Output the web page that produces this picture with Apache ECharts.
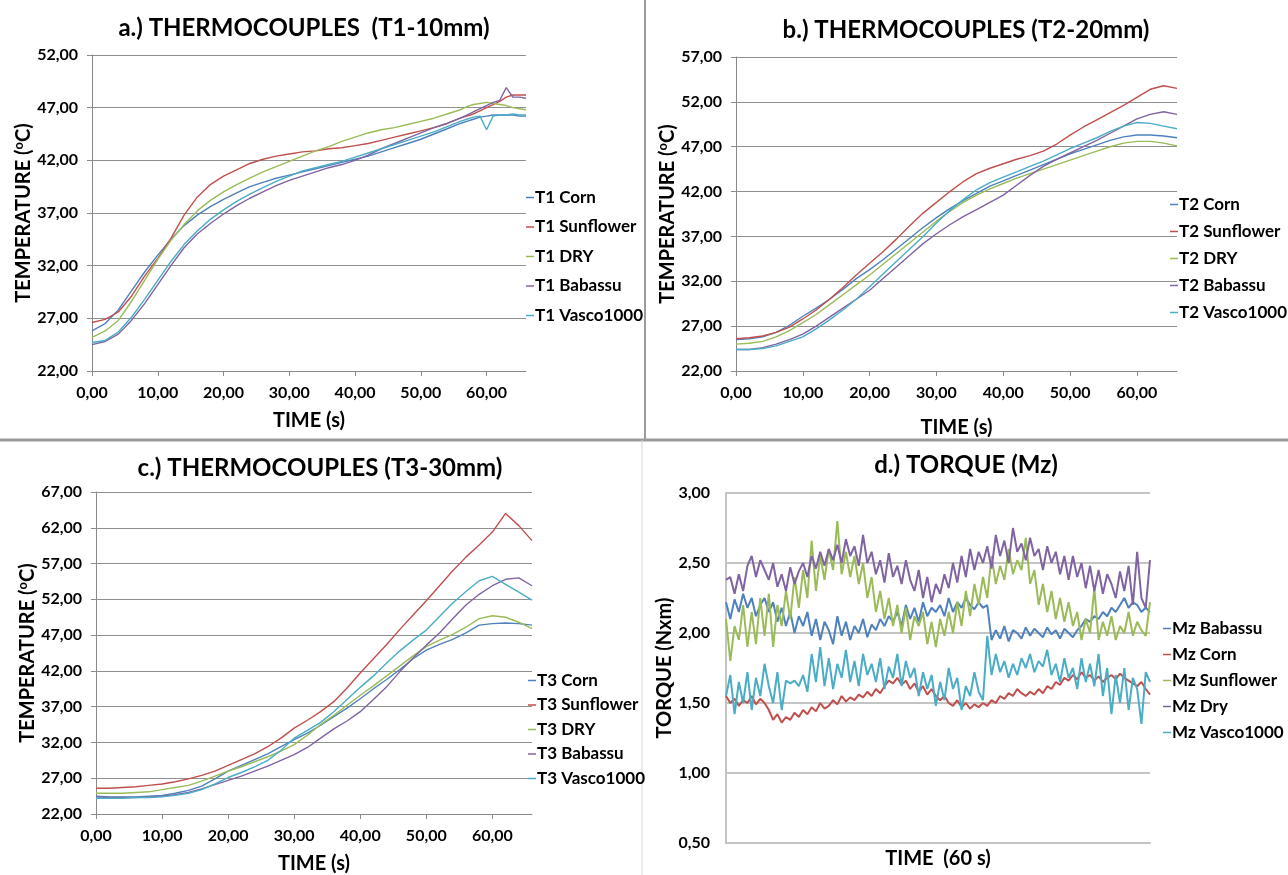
<!DOCTYPE html>
<html>
<head>
<meta charset="utf-8">
<script src="https://cdn.jsdelivr.net/npm/echarts@6/dist/echarts.min.js"></script>
<style>
  html, body { margin: 0; padding: 0; background: #fff; }
  #chart { width: 1288px; height: 875px; }
</style>
</head>
<body>
<div id="chart"></div>
<script>
// ---- data ----
// time (s), panel a has a finer step at the end (spikes)
var timeA = [0,2,4,6,8,10,12,14,16,18,20,22,24,26,28,30,32,34,36,38,40,42,44,46,48,50,52,54,56,57,58,59,60,61,62,63,64,65,66];
var timeBC = [0,2,4,6,8,10,12,14,16,18,20,22,24,26,28,30,32,34,36,38,40,42,44,46,48,50,52,54,56,58,60,62,64,66];

// a.) T1-10mm
var t1Corn      = [25.8,26.5,27.8,29.6,31.4,33.0,34.5,35.8,36.8,37.6,38.3,38.9,39.5,39.9,40.3,40.6,40.9,41.2,41.5,41.8,42.1,42.4,42.8,43.2,43.6,44.0,44.5,45.0,45.5,45.7,45.9,46.1,46.2,46.3,46.3,46.3,46.3,46.2,46.2];
var t1Sunflower = [26.6,26.9,27.6,29.1,31.0,32.7,34.6,36.8,38.5,39.7,40.5,41.1,41.7,42.1,42.4,42.6,42.8,42.9,43.1,43.2,43.4,43.6,43.9,44.2,44.5,44.8,45.1,45.5,46.0,46.2,46.4,46.7,47.0,47.3,47.6,48.0,48.2,48.2,48.2];
var t1Dry       = [25.2,25.8,26.8,28.6,30.6,32.6,34.4,35.9,37.2,38.2,39.0,39.7,40.3,40.9,41.4,41.9,42.4,42.9,43.3,43.8,44.2,44.6,44.9,45.1,45.4,45.7,46.0,46.4,46.8,47.1,47.3,47.4,47.5,47.4,47.3,47.2,47.0,46.9,46.8];
var t1Babassu   = [24.5,24.8,25.5,26.8,28.4,30.2,32.0,33.7,35.0,36.0,36.9,37.7,38.4,39.0,39.6,40.1,40.5,40.9,41.3,41.6,42.0,42.5,43.1,43.6,44.1,44.6,45.1,45.5,46.0,46.3,46.6,46.9,47.2,47.5,47.7,48.9,48.0,48.0,47.9];
var t1Vasco     = [24.7,24.9,25.7,27.1,28.8,30.6,32.4,34.0,35.3,36.4,37.3,38.1,38.8,39.4,40.0,40.5,41.0,41.3,41.6,41.9,42.3,42.7,43.1,43.5,43.9,44.3,44.7,45.2,45.7,45.9,46.1,46.2,44.9,46.2,46.3,46.3,46.4,46.3,46.3];

// b.) T2-20mm
var t2Corn      = [25.5,25.6,25.8,26.3,27.1,28.1,29.0,30.0,31.1,32.3,33.3,34.4,35.6,36.8,38.0,39.1,40.1,41.0,41.8,42.6,43.2,43.8,44.4,45.0,45.6,46.2,46.7,47.2,47.7,48.1,48.3,48.3,48.2,48.0];
var t2Sunflower = [25.6,25.7,25.9,26.3,26.9,27.8,28.8,30.0,31.3,32.7,34.0,35.3,36.7,38.2,39.6,40.8,42.0,43.1,44.0,44.6,45.1,45.6,46.0,46.5,47.3,48.3,49.2,50.0,50.8,51.6,52.5,53.4,53.8,53.5];
var t2Dry       = [25.0,25.1,25.3,25.8,26.5,27.4,28.3,29.4,30.5,31.6,32.7,33.9,35.1,36.3,37.5,38.7,39.8,40.8,41.6,42.3,42.9,43.5,44.0,44.5,45.0,45.5,46.0,46.5,47.0,47.4,47.6,47.6,47.4,47.1];
var t2Babassu   = [24.4,24.4,24.6,25.0,25.5,26.1,27.0,28.0,29.0,30.0,31.0,32.3,33.6,34.9,36.2,37.3,38.3,39.2,40.0,40.8,41.6,42.7,43.8,44.8,45.6,46.3,47.0,47.7,48.5,49.3,50.1,50.6,50.9,50.6];
var t2Vasco     = [24.4,24.4,24.5,24.8,25.3,25.8,26.7,27.7,28.8,30.0,31.4,32.8,34.2,35.6,37.0,38.5,39.9,41.1,42.2,43.0,43.6,44.2,44.8,45.4,46.1,46.8,47.4,48.0,48.7,49.3,49.7,49.6,49.3,49.0];

// c.) T3-30mm
var t3Corn      = [24.5,24.4,24.4,24.4,24.5,24.6,24.9,25.3,25.9,26.9,28.0,28.8,29.6,30.4,31.4,32.4,33.3,34.4,35.6,36.8,38.1,39.5,40.8,42.2,43.7,44.9,45.7,46.4,47.3,48.4,48.6,48.7,48.6,48.4];
var t3Sunflower = [25.6,25.6,25.7,25.8,26.0,26.2,26.5,26.9,27.4,28.0,28.8,29.6,30.4,31.4,32.6,34.0,35.1,36.3,37.7,39.6,41.7,43.7,45.7,47.8,49.8,51.8,53.9,56.0,57.9,59.6,61.4,64.0,62.3,60.2];
var t3Dry       = [24.9,24.9,24.9,25.0,25.1,25.4,25.7,26.0,26.6,27.3,28.0,28.6,29.3,30.0,30.8,31.7,33.0,34.5,35.8,37.2,38.6,39.9,41.3,42.7,44.1,45.4,46.3,47.1,48.1,49.3,49.7,49.5,48.8,47.9];
var t3Babassu   = [24.4,24.3,24.3,24.3,24.4,24.5,24.7,25.0,25.5,26.1,26.7,27.3,28.0,28.7,29.5,30.3,31.3,32.6,33.9,35.0,36.3,38.0,39.8,41.9,43.8,45.6,47.3,49.3,51.2,52.7,53.9,54.8,55.0,53.9];
var t3Vasco     = [24.2,24.2,24.2,24.3,24.3,24.4,24.6,24.9,25.4,26.2,27.1,27.8,28.6,29.5,30.9,32.6,33.7,34.8,36.3,38.0,39.7,41.3,43.1,44.8,46.3,47.7,49.6,51.5,53.1,54.6,55.2,54.1,53.0,51.9];

// d.) torque Mz (Nxm), 60 s record
var mzBabassu = [2.22,2.10,2.24,2.15,2.28,2.18,2.25,2.12,2.20,2.25, 2.15,2.22,2.08,2.18,2.05,2.15,2.00,2.12,2.05,2.15,
                 1.98,2.10,1.95,2.08,2.02,1.92,2.12,1.98,2.08,1.95, 2.05,2.00,2.10,1.97,2.06,2.02,2.10,2.05,2.12,2.08,
                 2.15,2.05,2.20,2.10,2.18,2.08,2.22,2.12,2.18,2.15, 2.20,2.12,2.25,2.15,2.22,2.18,2.25,2.20,2.17,2.22,
                 2.18,2.20,1.95,2.02,1.96,2.05,1.94,2.02,2.00,1.96, 2.04,1.98,2.03,2.00,1.97,2.04,1.99,2.02,1.96,2.03,
                 2.00,1.97,2.02,2.05,2.10,2.08,2.12,2.10,2.15,2.12, 2.18,2.15,2.20,2.25,2.18,2.22,2.20,2.15,2.18,2.15];
var mzCorn    = [1.55,1.50,1.53,1.48,1.52,1.50,1.55,1.49,1.53,1.50, 1.45,1.38,1.42,1.36,1.40,1.38,1.43,1.40,1.45,1.42,
                 1.47,1.44,1.50,1.46,1.48,1.52,1.49,1.55,1.51,1.54, 1.52,1.56,1.54,1.58,1.55,1.60,1.57,1.62,1.66,1.64,
                 1.68,1.63,1.66,1.60,1.64,1.58,1.62,1.56,1.60,1.55, 1.52,1.55,1.50,1.48,1.52,1.47,1.50,1.46,1.49,1.47,
                 1.50,1.48,1.52,1.50,1.55,1.53,1.57,1.55,1.60,1.57, 1.55,1.58,1.56,1.60,1.57,1.62,1.60,1.65,1.63,1.68,
                 1.66,1.70,1.67,1.72,1.68,1.70,1.66,1.69,1.65,1.68, 1.70,1.67,1.71,1.68,1.66,1.64,1.62,1.65,1.60,1.56];
var mzSunflower = [2.10,1.80,2.05,1.95,2.20,1.90,2.15,1.92,2.25,1.98, 2.28,1.90,2.20,2.05,2.30,2.10,2.40,2.18,2.45,2.25,
                 2.66,2.30,2.55,2.38,2.60,2.45,2.80,2.42,2.58,2.40, 2.55,2.35,2.50,2.25,2.40,2.15,2.30,2.10,2.25,2.05,
                 2.20,2.00,2.18,1.95,2.12,2.05,2.15,1.92,2.08,1.90, 2.10,1.98,2.15,2.00,2.22,2.05,2.30,2.12,2.35,2.20,
                 2.40,2.25,2.55,2.35,2.48,2.38,2.60,2.42,2.52,2.45, 2.68,2.35,2.45,2.20,2.35,2.15,2.30,2.10,2.25,2.08,
                 2.22,2.05,2.15,1.95,2.10,2.00,2.32,1.95,2.08,1.98, 2.12,1.95,2.05,2.00,2.15,1.98,2.08,2.02,1.98,2.22];
var mzDry     = [2.38,2.40,2.28,2.42,2.30,2.48,2.55,2.40,2.52,2.45, 2.38,2.50,2.33,2.42,2.30,2.47,2.35,2.44,2.50,2.40,
                 2.55,2.46,2.58,2.48,2.60,2.52,2.63,2.50,2.67,2.55, 2.62,2.48,2.70,2.50,2.58,2.42,2.52,2.36,2.57,2.40,
                 2.48,2.35,2.52,2.38,2.30,2.45,2.25,2.40,2.22,2.35, 2.28,2.42,2.32,2.50,2.36,2.55,2.40,2.60,2.45,2.58,
                 2.50,2.62,2.46,2.70,2.55,2.66,2.50,2.75,2.58,2.64, 2.52,2.68,2.55,2.60,2.45,2.62,2.50,2.58,2.42,2.55,
                 2.38,2.55,2.40,2.50,2.32,2.48,2.30,2.45,2.28,2.42, 2.35,2.25,2.44,2.30,2.48,2.20,2.58,2.25,2.18,2.52];
var mzVasco   = [1.55,1.70,1.42,1.65,1.50,1.72,1.45,1.68,1.55,1.78, 1.62,1.50,1.72,1.45,1.66,1.64,1.66,1.62,1.70,1.58,
                 1.85,1.65,1.90,1.62,1.82,1.60,1.78,1.68,1.88,1.65, 1.80,1.62,1.85,1.70,1.78,1.65,1.82,1.60,1.76,1.68,
                 1.85,1.62,1.80,1.68,1.75,1.55,1.72,1.60,1.70,1.48, 1.65,1.52,1.75,1.60,1.68,1.45,1.62,1.55,1.72,1.58,
                 1.52,1.98,1.70,1.85,1.72,1.80,1.68,1.78,1.70,1.82, 1.75,1.85,1.72,1.80,1.76,1.88,1.70,1.78,1.65,1.82,
                 1.68,1.75,1.60,1.82,1.65,1.78,1.62,1.85,1.55,1.75, 1.42,1.70,1.50,1.75,1.45,1.68,1.60,1.35,1.72,1.65];

// ---- styling ----
var FONT = 'Lato, "Liberation Sans", sans-serif';
var BLUE = '#4F81BD', RED = '#C0504D', GREEN = '#9BBB59', PURPLE = '#8064A2', AQUA = '#4BACC6';

function comma(v) { return v.toFixed(2).replace('.', ','); }

function pairs(times, vals) {
  return times.map(function (t, i) { return [t, vals[i]]; });
}

function line(name, data, idx, color, w) {
  return {
    name: name, type: 'line', xAxisIndex: idx, yAxisIndex: idx,
    data: data, showSymbol: false, symbol: 'none',
    lineStyle: { color: color, width: w }, itemStyle: { color: color },
    animation: false
  };
}

function timeAxis(idx, gap) {
  return {
    gridIndex: idx, type: 'value', min: 0, max: 66, interval: 10,
    name: 'TIME (s)', nameLocation: 'middle', nameGap: gap,
    nameTextStyle: { fontFamily: FONT, fontWeight: 'bold', fontSize: 20, color: '#000' },
    axisLine: { show: true, lineStyle: { color: '#8a8a8a', width: 1 } },
    axisTick: { show: true, length: 5, lineStyle: { color: '#8a8a8a' } },
    splitLine: { show: false },
    axisLabel: {
      margin: 14, fontFamily: FONT, fontWeight: 'bold', fontSize: 16, color: '#000',
      showMaxLabel: false,
      formatter: function (v) { return v % 10 === 0 ? comma(v) : ''; }
    }
  };
}

function tempAxis(idx, min, max, gap) {
  return {
    gridIndex: idx, type: 'value', min: min, max: max, interval: 5,
    name: 'TEMPERATURE ({sup|o}C)', nameLocation: 'middle', nameGap: gap,
    nameTextStyle: {
      fontFamily: FONT, fontWeight: 'bold', fontSize: 20, color: '#000',
      rich: { sup: { fontFamily: FONT, fontWeight: 'bold', fontSize: 13, color: '#000', padding: [0, 0, 9, 0] } }
    },
    axisLine: { show: true, lineStyle: { color: '#8a8a8a', width: 1 } },
    axisTick: { show: true, length: 5, lineStyle: { color: '#8a8a8a' } },
    splitLine: { show: true, lineStyle: { color: '#8f8f8f', width: 1 } },
    axisLabel: { margin: 14, fontFamily: FONT, fontWeight: 'bold', fontSize: 16, color: '#000', formatter: comma }
  };
}

function legend(names, left, top, gap) {
  return {
    data: names, orient: 'vertical', left: left, top: top, itemGap: gap, padding: 0,
    icon: 'rect', itemWidth: 8, itemHeight: 1.5, selectedMode: false,
    textStyle: { fontFamily: FONT, fontWeight: 'bold', fontSize: 17, color: '#000', padding: [0, 0, 0, -4] }
  };
}

function title(text, cx, top) {
  return {
    text: text, left: cx, top: top, textAlign: 'center', padding: 0,
    textStyle: { fontFamily: FONT, fontWeight: 'bold', fontSize: 24, color: '#000' }
  };
}

var chart = echarts.init(document.getElementById('chart'), null, { renderer: 'canvas' });

var option = {
  backgroundColor: '#fff',
  animation: false,
  title: [
    title('a.) THERMOCOUPLES  (T1-10mm)', 304, 16),
    title('b.) THERMOCOUPLES (T2-20mm)', 966, 18),
    title('c.) THERMOCOUPLES (T3-30mm)', 320, 456),
    title('d.) TORQUE (Mz)', 966, 453)
  ],
  legend: [
    legend(['T1 Corn', 'T1 Sunflower', 'T1 DRY', 'T1 Babassu', 'T1 Vasco1000'], 526, 189, 12.5),
    legend(['T2 Corn', 'T2 Sunflower', 'T2 DRY', 'T2 Babassu', 'T2 Vasco1000'], 1170, 196, 10),
    legend(['T3 Corn', 'T3 Sunflower', 'T3 DRY', 'T3 Babassu', 'T3 Vasco1000'], 528, 672, 7.5),
    legend(['Mz Babassu', 'Mz Corn', 'Mz Sunflower', 'Mz Dry', 'Mz Vasco1000'], 1163, 620, 9)
  ],
  grid: [
    { left: 92, top: 55, width: 434, height: 316 },
    { left: 736, top: 57, width: 441, height: 314 },
    { left: 96, top: 492, width: 436, height: 329 },
    { left: 726, top: 493, width: 424, height: 350 }
  ],
  xAxis: [
    timeAxis(0, 40),
    timeAxis(1, 47),
    timeAxis(2, 40),
    {
      gridIndex: 3, type: 'category', boundaryGap: false,
      data: mzBabassu.map(function (v, i) { return i; }),
      name: 'TIME  (60 s)', nameLocation: 'middle', nameGap: 6,
      nameTextStyle: { fontFamily: FONT, fontWeight: 'bold', fontSize: 20, color: '#000' },
      axisLine: { show: true, lineStyle: { color: '#c4c4c4', width: 2 } },
      axisTick: { show: false }, axisLabel: { show: false }, splitLine: { show: false }
    }
  ],
  yAxis: [
    tempAxis(0, 22, 52, 54),
    tempAxis(1, 22, 57, 55),
    tempAxis(2, 22, 67, 55),
    {
      gridIndex: 3, type: 'value', min: 0.5, max: 3, interval: 0.5,
      name: 'TORQUE (Nxm)', nameLocation: 'middle', nameGap: 49,
      nameTextStyle: { fontFamily: FONT, fontWeight: 'bold', fontSize: 20, color: '#000' },
      axisLine: { show: true, lineStyle: { color: '#c4c4c4', width: 2 } },
      axisTick: { show: false },
      splitLine: { show: true, lineStyle: { color: '#c4c4c4', width: 2 } },
      axisLabel: { margin: 16, fontFamily: FONT, fontWeight: 'bold', fontSize: 16, color: '#000', formatter: comma }
    }
  ],
  series: [
    line('T1 Corn', pairs(timeA, t1Corn), 0, BLUE, 1.4),
    line('T1 Sunflower', pairs(timeA, t1Sunflower), 0, RED, 1.4),
    line('T1 DRY', pairs(timeA, t1Dry), 0, GREEN, 1.4),
    line('T1 Babassu', pairs(timeA, t1Babassu), 0, PURPLE, 1.4),
    line('T1 Vasco1000', pairs(timeA, t1Vasco), 0, AQUA, 1.4),

    line('T2 Corn', pairs(timeBC, t2Corn), 1, BLUE, 1.4),
    line('T2 Sunflower', pairs(timeBC, t2Sunflower), 1, RED, 1.4),
    line('T2 DRY', pairs(timeBC, t2Dry), 1, GREEN, 1.4),
    line('T2 Babassu', pairs(timeBC, t2Babassu), 1, PURPLE, 1.4),
    line('T2 Vasco1000', pairs(timeBC, t2Vasco), 1, AQUA, 1.4),

    line('T3 Corn', pairs(timeBC, t3Corn), 2, BLUE, 1.4),
    line('T3 Sunflower', pairs(timeBC, t3Sunflower), 2, RED, 1.4),
    line('T3 DRY', pairs(timeBC, t3Dry), 2, GREEN, 1.4),
    line('T3 Babassu', pairs(timeBC, t3Babassu), 2, PURPLE, 1.4),
    line('T3 Vasco1000', pairs(timeBC, t3Vasco), 2, AQUA, 1.4),

    line('Mz Babassu', mzBabassu, 3, BLUE, 2),
    line('Mz Corn', mzCorn, 3, RED, 2),
    line('Mz Sunflower', mzSunflower, 3, GREEN, 2),
    line('Mz Dry', mzDry, 3, PURPLE, 2),
    line('Mz Vasco1000', mzVasco, 3, AQUA, 2)
  ],
  // panel dividers
  graphic: [
    { type: 'line', shape: { x1: 645, y1: 0, x2: 645, y2: 440 }, style: { stroke: '#9a9a9a', lineWidth: 2 } },
    { type: 'line', shape: { x1: 0, y1: 440, x2: 1288, y2: 440 }, style: { stroke: '#9a9a9a', lineWidth: 3 } },
    { type: 'line', shape: { x1: 642, y1: 440, x2: 642, y2: 875 }, style: { stroke: '#d6d6d6', lineWidth: 1 } }
  ]
};

chart.setOption(option);
</script>
</body>
</html>
